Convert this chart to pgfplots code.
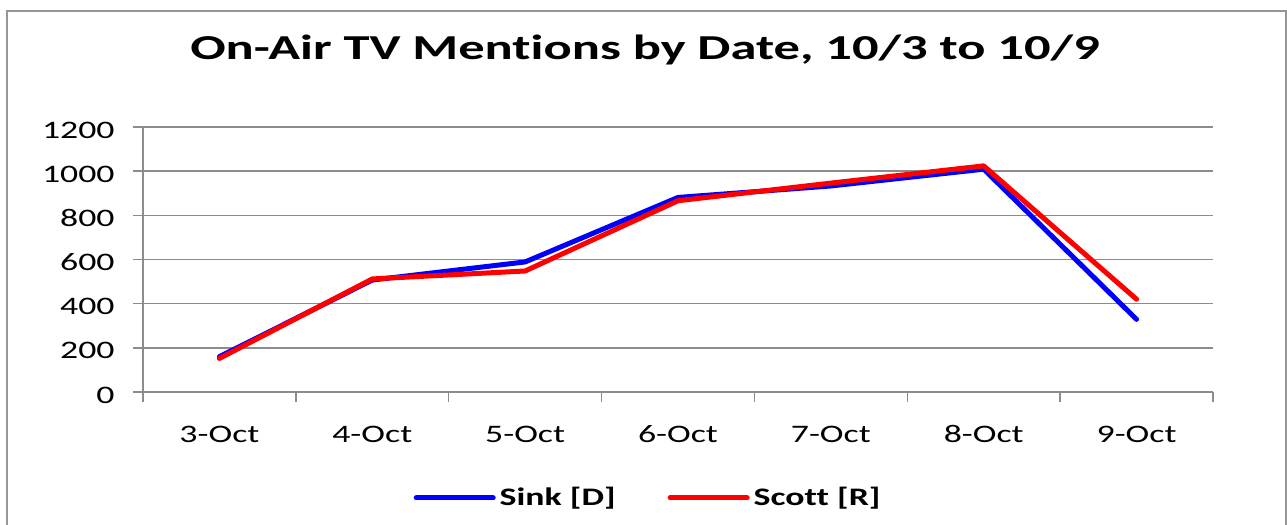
\documentclass[border=0pt]{standalone}
\usepackage{pgfplots}
\pgfplotsset{compat=1.18}
\usepackage{fontspec}
\setmainfont{Carlito}[Ligatures=NoCommon]
\usepackage{graphicx}
\definecolor{gridgray}{RGB}{140,140,140}
\definecolor{framegray}{RGB}{150,150,150}
\definecolor{sinkblue}{RGB}{0,0,255}
\definecolor{scottred}{RGB}{255,0,0}
\newcommand{\sx}[1]{\scalebox{1.42}[1]{#1}}
\newcommand{\tl}{\fontsize{12.6}{15}\selectfont}
\begin{document}
\begin{tikzpicture}
\path[use as bounding box] (0,0) rectangle (643.5pt,262.5pt);
\draw[framegray, line width=1pt] (3.5pt,0pt) -- (3.5pt,257pt) -- (642.75pt,257pt) -- (642.75pt,0pt);
\node[font=\fontsize{17.5}{20}\selectfont\bfseries, anchor=base, inner sep=0pt] at (322.5pt,232.5pt) {\scalebox{1.5}[1]{On-Air TV Mentions by Date, 10/3 to 10/9}};
\begin{axis}[
  at={(71.5pt,66.5pt)}, anchor=south west,
  width=535pt, height=132.5pt, scale only axis,
  xmin=-0.5, xmax=6.5, ymin=0, ymax=1200,
  axis x line*=bottom, axis y line*=left,
  axis line style={gridgray, line width=0.75pt},
  ymajorgrids, grid style={gridgray, line width=0.75pt},
  tick align=outside, major tick length=5pt,
  tick style={gridgray, line width=0.75pt},
  ytick={0,200,...,1200},
  yticklabels={\sx{0},\sx{200},\sx{400},\sx{600},\sx{800},\sx{1000},\sx{1200}},
  yticklabel style={font=\tl, anchor=east, inner sep=0pt, yshift=-1.5pt, xshift=-9pt},
  xtick={-0.5,0.5,...,6.5}, xticklabels={},
  extra x ticks={0,1,2,3,4,5,6},
  extra x tick labels={\sx{3-Oct},\sx{4-Oct},\sx{5-Oct},\sx{6-Oct},\sx{7-Oct},\sx{8-Oct},\sx{9-Oct}},
  extra x tick style={tick style={draw=none}, grid=none},
  xticklabel style={font=\tl, anchor=base, inner sep=0pt, yshift=-20pt},
  legend style={at={(0.473,-0.40)}, anchor=center, draw=none, fill=none,
    legend columns=2, font=\tl\bfseries, inner sep=0pt,
    /tikz/every even column/.append style={column sep=24pt}},
  legend image code/.code={\draw[#1, line width=2.5pt, line cap=round] (0pt,0pt) -- (38.5pt,0pt);},
  clip=false,
]
\addplot[sinkblue, line width=2.5pt, line cap=round, line join=round] coordinates {
  (0,160) (1,507) (2,589) (3,881) (4,933) (5,1009) (6,329)};
\addlegendentry{\sx{Sink [D]}}
\addplot[scottred, line width=2.5pt, line cap=round, line join=round] coordinates {
  (0,152) (1,512) (2,548) (3,866) (4,946) (5,1024) (6,420)};
\addlegendentry{\sx{Scott [R]}}
\end{axis}
\end{tikzpicture}
\end{document}
